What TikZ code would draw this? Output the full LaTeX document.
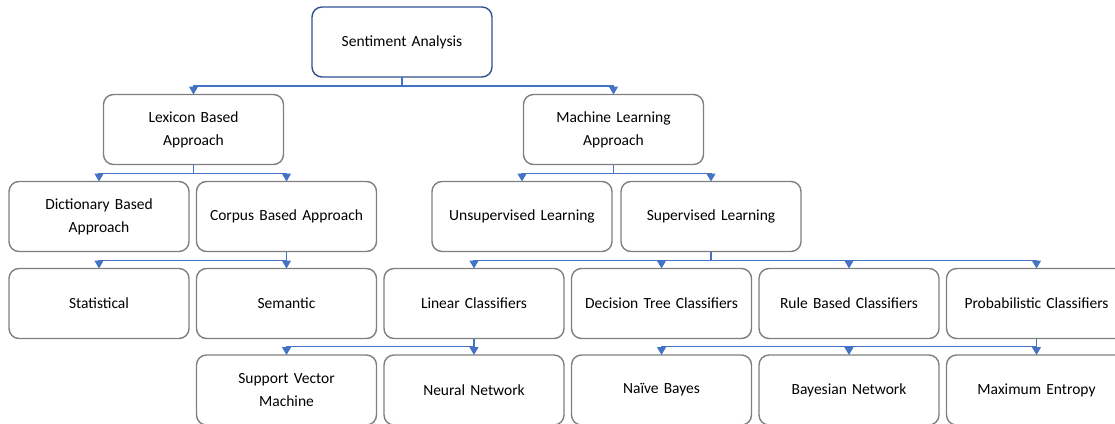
\documentclass[tikz,border=0pt]{standalone}
\usepackage{fontspec}
\setmainfont{Carlito}
\usetikzlibrary{positioning,arrows.meta}
\definecolor{bleu}{HTML}{4472C4}
\definecolor{bleufonce}{HTML}{2F528F}
\definecolor{gris}{HTML}{7F7F7F}
\tikzstyle{boite}=[rectangle,rounded corners=10pt,draw=gris,line width=1.4pt,outer sep=0pt,minimum width=180pt,minimum height=70pt,text width=170pt,align=center,font=\fontsize{15.5}{23}\selectfont]
\tikzstyle{racine}=[boite,draw=bleufonce]
\tikzstyle{fleche}=[draw=bleu,line width=1.2pt,-{Triangle[length=8pt,width=9pt]},bleu]

\begin{document}
\begin{tikzpicture}[x=1pt,y=-1pt,node distance=7.5pt]
\useasboundingbox (0,0) rectangle (1115,423);

\node[racine] (SA) at (402,42) {Sentiment Analysis};
\node[boite] (LBA) at (193.5,129.5) {Lexicon Based\\Approach};
\node[boite] (MLA) at (613.5,129.5) {Machine Learning\\Approach};
\node[boite] (DBA) at (99,216.5) {Dictionary Based\\Approach};
\node[boite] (CBA) [right =of DBA] {Corpus Based Approach};
\node[boite] (UL) at (522,216.5) {Unsupervised Learning};
\node[boite] (SL) [right =9pt of UL] {Supervised Learning};
\node[boite] (STAT) [below =17pt of DBA] {Statistical};
\node[boite] (SEM) [right =of STAT] {Semantic};
\node[boite] (LIN) [right =of SEM] {Linear Classifiers};
\node[boite] (DTC) [right =of LIN] {Decision Tree Classifiers};
\node[boite] (RBC) [right =of DTC] {Rule Based Classifiers};
\node[boite] (PROB) [right =of RBC] {Probabilistic Classifiers};
\node[boite] (SVM) [below =16.5pt of SEM] {Support Vector\\Machine};
\node[boite] (NN) [right =of SVM] {Neural Network};
\node[boite] (NB) [right =of NN] {Na\"ive Bayes};
\node[boite] (BN) [right =of NB] {Bayesian Network};
\node[boite] (ME) [right =of BN] {Maximum Entropy};

\draw[fleche] (SA.south) -- ++(0,-9pt) -| (LBA.north);
\draw[fleche] (SA.south) -- ++(0,-9pt) -| (MLA.north);
\draw[fleche] (LBA.south) -- ++(0,-9pt) -| (DBA.north);
\draw[fleche] (LBA.south) -- ++(0,-9pt) -| (CBA.north);
\draw[fleche] (MLA.south) -- ++(0,-9pt) -| (UL.north);
\draw[fleche] (MLA.south) -- ++(0,-9pt) -| (SL.north);
\draw[fleche] (CBA.south) -- ++(0,-9pt) -| (STAT.north);
\draw[fleche] (CBA.south) -- ++(0,-9pt) -| (SEM.north);
\draw[fleche] (SL.south) -- ++(0,-9pt) -| (LIN.north);
\draw[fleche] (SL.south) -- ++(0,-9pt) -| (DTC.north);
\draw[fleche] (SL.south) -- ++(0,-9pt) -| (RBC.north);
\draw[fleche] (SL.south) -- ++(0,-9pt) -| (PROB.north);
\draw[fleche] (LIN.south) -- ++(0,-8pt) -| (SVM.north);
\draw[fleche] (LIN.south) -- ++(0,-8pt) -| (NN.north);
\draw[fleche] (PROB.south) -- ++(0,-8pt) -| (NB.north);
\draw[fleche] (PROB.south) -- ++(0,-8pt) -| (BN.north);
\draw[fleche] (PROB.south) -- ++(0,-8pt) -| (ME.north);

\end{tikzpicture}
\end{document}
